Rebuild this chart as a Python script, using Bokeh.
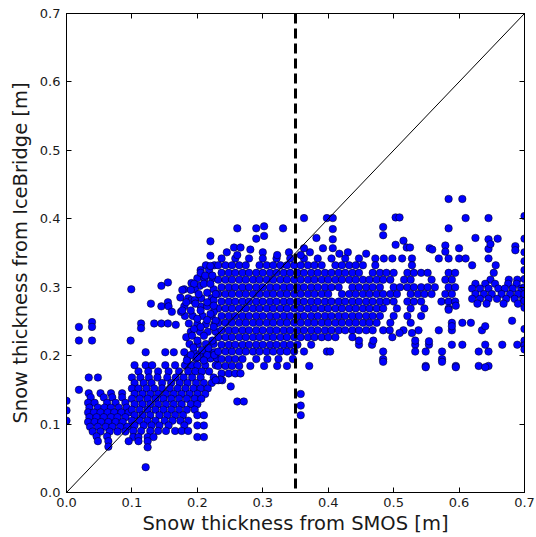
from bokeh.plotting import figure
from bokeh.models import LinearAxis, Span, Range1d, FixedTicker, NumeralTickFormatter, ColumnDataSource
from bokeh.embed import file_html
from bokeh.resources import INLINE

# ---------------- data ----------------
# rows: (snow thickness from IceBridge [m], [snow thickness from SMOS [m] of the points in that row])
left_cluster = [
    (0.145, [0.034, 0.052, 0.068, 0.085]),
    (0.139, [0.037, 0.057, 0.070, 0.085]),
    (0.131, [0.033, 0.043, 0.062, 0.075, 0.090]),
    (0.124, [0.035, 0.048, 0.058, 0.068, 0.080, 0.092]),
    (0.117, [0.033, 0.042, 0.052, 0.063, 0.073, 0.084, 0.095]),
    (0.110, [0.035, 0.046, 0.057, 0.068, 0.078, 0.090]),
    (0.103, [0.033, 0.043, 0.053, 0.064, 0.075, 0.086]),
    (0.096, [0.036, 0.048, 0.060, 0.070, 0.082, 0.093]),
    (0.089, [0.040, 0.052, 0.066, 0.078, 0.090]),
    (0.082, [0.046, 0.062]),
    (0.075, [0.048, 0.064]),
    (0.067, [0.064]),
]

lower_band = [
    (0.205, [0.121, 0.151, 0.164, 0.180, 0.195, 0.207, 0.217, 0.226]),
    (0.196, [0.185, 0.198, 0.208, 0.220, 0.230]),
    (0.186, [0.104, 0.121, 0.131, 0.151, 0.166, 0.181, 0.191, 0.200, 0.212, 0.228]),
    (0.177, [0.110, 0.125, 0.140, 0.156, 0.172, 0.186, 0.197, 0.207, 0.218]),
    (0.168, [0.100, 0.113, 0.126, 0.139, 0.154, 0.167, 0.179, 0.192, 0.205, 0.225]),
    (0.160, [0.104, 0.118, 0.130, 0.146, 0.160, 0.173, 0.185, 0.198, 0.210, 0.222]),
    (0.152, [0.100, 0.110, 0.122, 0.134, 0.146, 0.158, 0.170, 0.182, 0.194, 0.205, 0.216]),
    (0.144, [0.104, 0.116, 0.128, 0.140, 0.152, 0.164, 0.176, 0.188, 0.200, 0.212]),
    (0.137, [0.100, 0.112, 0.124, 0.136, 0.148, 0.160, 0.172, 0.184, 0.196, 0.206]),
    (0.129, [0.104, 0.116, 0.128, 0.140, 0.152, 0.164, 0.176, 0.190, 0.200]),
    (0.121, [0.100, 0.112, 0.124, 0.136, 0.148, 0.160, 0.172, 0.184, 0.196]),
    (0.113, [0.104, 0.116, 0.128, 0.142, 0.154, 0.166, 0.178, 0.200, 0.210]),
    (0.105, [0.100, 0.112, 0.124, 0.136, 0.150, 0.162, 0.174, 0.186]),
    (0.098, [0.104, 0.118, 0.130, 0.142, 0.156, 0.180, 0.200, 0.210]),
    (0.090, [0.102, 0.114, 0.128, 0.140, 0.152, 0.166, 0.176, 0.186]),
    (0.081, [0.102, 0.110, 0.124, 0.133, 0.200, 0.210]),
    (0.075, [0.095, 0.110, 0.124]),
    (0.066, [0.124]),
]

# transition between the lower band and the main band (SMOS 0.18 - 0.23)
band_edge = [
    (0.332, [0.213, 0.226]),
    (0.325, [0.205, 0.218]),
    (0.313, [0.200, 0.211, 0.223]),
    (0.284, [0.186, 0.206, 0.222]),
    (0.258, [0.181, 0.193, 0.208, 0.222]),
    (0.246, [0.200, 0.213, 0.226]),
    (0.235, [0.190, 0.204, 0.216, 0.228]),
    (0.217, [0.188, 0.201, 0.213, 0.225]),
    (0.201, [0.190, 0.203, 0.215, 0.226]),
]

main_band = [
    (0.351, [0.245, 0.300, 0.340, 0.372, 0.430]),
    (0.342, [0.237, 0.258, 0.279, 0.300, 0.321, 0.342, 0.363, 0.384, 0.405, 0.426, 0.447, 0.472, 0.485,
             0.498, 0.513, 0.528, 0.569, 0.584, 0.600, 0.610, 0.645]),
    (0.332, [0.232, 0.243, 0.253, 0.264, 0.274, 0.295, 0.306, 0.316, 0.327, 0.337, 0.348, 0.358,
             0.369, 0.379, 0.390, 0.411, 0.421, 0.432, 0.442, 0.453, 0.472, 0.528, 0.620, 0.656]),
    (0.321, [0.237, 0.248, 0.258, 0.269, 0.279, 0.290, 0.300, 0.311, 0.321, 0.332, 0.342, 0.353, 0.363,
             0.374, 0.384, 0.395, 0.405, 0.416, 0.426, 0.437, 0.447, 0.468, 0.479, 0.489, 0.500,
             0.521, 0.531, 0.542, 0.552, 0.584, 0.594, 0.653]),
    (0.311, [0.232, 0.243, 0.253, 0.264, 0.274, 0.285, 0.295, 0.306, 0.316, 0.327, 0.337, 0.348, 0.358,
             0.369, 0.379, 0.390, 0.400, 0.411, 0.421, 0.432, 0.442, 0.453, 0.463, 0.474, 0.484, 0.495,
             0.516, 0.526, 0.558, 0.579, 0.589, 0.648, 0.676, 0.689]),
    (0.300, [0.237, 0.248, 0.258, 0.269, 0.279, 0.290, 0.300, 0.311, 0.321, 0.332, 0.342, 0.353, 0.363,
             0.374, 0.384, 0.395, 0.405, 0.416, 0.437, 0.447, 0.458, 0.468, 0.479, 0.500, 0.510,
             0.521, 0.531, 0.542, 0.552, 0.563, 0.584, 0.594]),
    (0.290, [0.232, 0.243, 0.253, 0.264, 0.274, 0.285, 0.295, 0.306, 0.316, 0.327, 0.337, 0.348, 0.358,
             0.369, 0.379, 0.390, 0.400, 0.421, 0.432, 0.442, 0.453, 0.463, 0.474, 0.484, 0.495, 0.505,
             0.526, 0.537, 0.547, 0.558, 0.579, 0.589]),
    (0.279, [0.237, 0.248, 0.258, 0.269, 0.279, 0.290, 0.300, 0.311, 0.321, 0.332, 0.342, 0.353, 0.363,
             0.374, 0.384, 0.395, 0.405, 0.416, 0.426, 0.437, 0.447, 0.458, 0.468, 0.479, 0.489, 0.500,
             0.521, 0.531, 0.542, 0.573, 0.584, 0.594]),
    (0.269, [0.232, 0.243, 0.253, 0.264, 0.274, 0.285, 0.295, 0.306, 0.316, 0.327, 0.337, 0.348, 0.358,
             0.369, 0.379, 0.390, 0.400, 0.411, 0.421, 0.432, 0.442, 0.453, 0.463, 0.474, 0.484, 0.505,
             0.526, 0.547, 0.584]),
    (0.258, [0.237, 0.248, 0.258, 0.269, 0.279, 0.290, 0.300, 0.311, 0.321, 0.332, 0.342, 0.353, 0.363,
             0.374, 0.384, 0.395, 0.405, 0.416, 0.426, 0.437, 0.447, 0.458, 0.468, 0.479, 0.500, 0.521,
             0.542]),
    (0.248, [0.232, 0.243, 0.253, 0.264, 0.274, 0.285, 0.295, 0.306, 0.316, 0.327, 0.337, 0.348, 0.358,
             0.369, 0.379, 0.390, 0.400, 0.411, 0.421, 0.432, 0.442, 0.453, 0.463, 0.474, 0.495, 0.526,
             0.589, 0.605, 0.618]),
    (0.237, [0.237, 0.248, 0.258, 0.269, 0.279, 0.290, 0.300, 0.311, 0.321, 0.332, 0.342, 0.353, 0.363,
             0.374, 0.384, 0.395, 0.405, 0.416, 0.426, 0.437, 0.447, 0.458, 0.468, 0.484, 0.494, 0.515,
             0.538, 0.569, 0.589, 0.635]),
    (0.227, [0.232, 0.243, 0.253, 0.264, 0.274, 0.285, 0.295, 0.306, 0.316, 0.327, 0.337, 0.348, 0.358,
             0.369, 0.379, 0.390, 0.400, 0.411, 0.437, 0.498]),
    (0.216, [0.237, 0.248, 0.258, 0.269, 0.279, 0.290, 0.300, 0.311, 0.321, 0.332, 0.342, 0.353, 0.374,
             0.447, 0.467, 0.533, 0.554, 0.589, 0.605, 0.640, 0.666, 0.689]),
    (0.206, [0.232, 0.243, 0.253, 0.264, 0.274, 0.285, 0.295, 0.306, 0.316, 0.327, 0.337, 0.348, 0.363,
             0.398, 0.403, 0.484, 0.533, 0.549, 0.574, 0.630, 0.645]),
    (0.195, [0.237, 0.248, 0.258, 0.269, 0.290, 0.307, 0.324, 0.346, 0.484, 0.574]),
    (0.185, [0.232, 0.243, 0.253, 0.264, 0.281, 0.302, 0.322, 0.337, 0.371, 0.549, 0.595, 0.630, 0.645]),
    (0.174, [0.237, 0.248, 0.258, 0.266]),
    (0.164, [0.232, 0.238]),
]

right_cluster = [
    (0.305, [0.625, 0.640, 0.655, 0.675, 0.688]),
    (0.298, [0.620, 0.632, 0.645, 0.660, 0.670, 0.682, 0.695]),
    (0.290, [0.625, 0.638, 0.650, 0.665, 0.678, 0.690]),
    (0.283, [0.620, 0.632, 0.645, 0.658, 0.672, 0.685, 0.698]),
    (0.276, [0.628, 0.642, 0.668, 0.690]),
]

# isolated points: SMOS and IceBridge snow thickness [m]
scatter_smos = [
    0.000, 0.000, 0.000, 0.019, 0.034, 0.048, 0.019, 0.039, 0.039, 0.019, 0.039, 0.098, 0.099, 0.121,
    0.145, 0.155, 0.129, 0.145, 0.155, 0.156, 0.161, 0.114, 0.114, 0.134, 0.145, 0.155, 0.167, 0.187,
    0.195, 0.205, 0.175, 0.180, 0.191, 0.196, 0.191, 0.204, 0.180, 0.196, 0.215, 0.225, 0.225, 0.205,
    0.215, 0.225, 0.220, 0.220, 0.220, 0.205, 0.212, 0.223, 0.195, 0.210, 0.220, 0.177, 0.190, 0.202,
    0.228, 0.174, 0.183, 0.197, 0.215, 0.225, 0.177, 0.190, 0.205, 0.220, 0.200, 0.215, 0.228, 0.225,
    0.183, 0.192, 0.200, 0.210, 0.223, 0.194, 0.207, 0.217, 0.184, 0.200, 0.210,
    0.261, 0.290, 0.302, 0.331, 0.290, 0.302, 0.363, 0.398, 0.407, 0.407, 0.382, 0.407, 0.256, 0.266,
    0.281, 0.261, 0.322, 0.363, 0.392, 0.407, 0.417, 0.358, 0.458,
    0.584, 0.605, 0.503, 0.509, 0.610, 0.645, 0.700, 0.484, 0.484, 0.584, 0.625, 0.645, 0.659, 0.700,
    0.515, 0.503, 0.520, 0.525, 0.555, 0.559, 0.579, 0.579, 0.600, 0.645, 0.648, 0.686, 0.686,
    0.700, 0.700, 0.700, 0.700, 0.700, 0.700, 0.700, 0.700, 0.700, 0.700, 0.700, 0.700,
    0.469, 0.509, 0.528, 0.589, 0.484, 0.533, 0.554, 0.574, 0.549, 0.595, 0.640, 0.640, 0.681, 0.447,
    0.584, 0.595, 0.251, 0.261, 0.271, 0.358, 0.358, 0.358, 0.235, 0.228,
]
scatter_icebridge = [
    0.134, 0.120, 0.105, 0.150, 0.168, 0.168, 0.242, 0.249, 0.242, 0.222, 0.222, 0.222, 0.297, 0.037,
    0.302, 0.307, 0.276, 0.272, 0.278, 0.272, 0.264, 0.247, 0.240, 0.247, 0.247, 0.247, 0.245, 0.247,
    0.239, 0.242, 0.264, 0.272, 0.281, 0.281, 0.306, 0.302, 0.297, 0.297, 0.292, 0.297, 0.281, 0.272,
    0.272, 0.264, 0.367, 0.346, 0.331, 0.321, 0.317, 0.317, 0.305, 0.305, 0.305, 0.296, 0.296, 0.290,
    0.290, 0.285, 0.278, 0.276, 0.278, 0.273, 0.266, 0.266, 0.266, 0.261, 0.254, 0.252, 0.251, 0.242,
    0.227, 0.229, 0.222, 0.229, 0.222, 0.212, 0.208, 0.211, 0.193, 0.198, 0.193,
    0.386, 0.386, 0.389, 0.386, 0.371, 0.375, 0.401, 0.401, 0.401, 0.385, 0.372, 0.370, 0.358, 0.358,
    0.355, 0.347, 0.347, 0.357, 0.357, 0.357, 0.349, 0.347, 0.349,
    0.429, 0.429, 0.402, 0.402, 0.401, 0.401, 0.404, 0.388, 0.376, 0.386, 0.372, 0.370, 0.371, 0.371,
    0.368, 0.362, 0.358, 0.358, 0.357, 0.355, 0.361, 0.352, 0.357, 0.356, 0.363, 0.360, 0.354,
    0.351, 0.338, 0.325, 0.312, 0.300, 0.290, 0.280, 0.270, 0.239, 0.222, 0.215, 0.209,
    0.222, 0.233, 0.233, 0.243, 0.191, 0.222, 0.221, 0.191, 0.183, 0.273, 0.243, 0.183, 0.251, 0.222,
    0.267, 0.183, 0.155, 0.133, 0.133, 0.144, 0.127, 0.113, 0.165, 0.164,
]

one_to_one = [0.0, 0.7]
smos_threshold = 0.35
tick_values = [0.0, 0.1, 0.2, 0.3, 0.4, 0.5, 0.6, 0.7]


def flatten(rows):
    xs, ys = [], []
    for level, row in rows:
        xs.extend(row)
        ys.extend([level] * len(row))
    return xs, ys


smos, icebridge = [], []
for group in (left_cluster, lower_band, band_edge, main_band, right_cluster):
    gx, gy = flatten(group)
    smos.extend(gx)
    icebridge.extend(gy)
smos.extend(scatter_smos)
icebridge.extend(scatter_icebridge)

source = ColumnDataSource(data=dict(smos=smos, icebridge=icebridge))

# ---------------- figure ----------------
p = figure(width=536, height=537, output_backend="svg", toolbar_location=None,
           x_range=Range1d(0, 0.7), y_range=Range1d(0, 0.7),
           min_border_left=66, min_border_right=12, min_border_top=13, min_border_bottom=45,
           background_fill_color="white", border_fill_color="white")
p.grid.visible = False
p.outline_line_color = "black"
p.outline_line_width = 1

FONT = "DejaVu Sans"
for ax in (p.xaxis[0], p.yaxis[0]):
    ax.ticker = FixedTicker(ticks=tick_values)
    ax.formatter = NumeralTickFormatter(format="0.0")
    ax.major_tick_in = 5
    ax.major_tick_out = 0
    ax.minor_tick_line_color = None
    ax.axis_line_color = "black"
    ax.major_tick_line_color = "black"
    ax.major_label_text_font = FONT
    ax.major_label_text_font_size = "13px"
    ax.major_label_text_color = "#1a1a1a"
    ax.axis_label_text_font = FONT
    ax.axis_label_text_font_size = "19.5px"
    ax.axis_label_text_font_style = "normal"
    ax.axis_label_text_color = "#1a1a1a"

p.xaxis.axis_label = "Snow thickness from SMOS [m]"
p.yaxis.axis_label = "Snow thickness from IceBridge [m]"
p.xaxis.major_label_standoff = 5
p.yaxis.major_label_standoff = 6
p.xaxis.axis_label_standoff = 2
p.yaxis.axis_label_standoff = 5

# tick marks on the top and right sides, without labels
for loc in ("above", "right"):
    ax = LinearAxis(ticker=FixedTicker(ticks=tick_values), major_tick_in=5, major_tick_out=0,
                    minor_tick_line_color=None, major_label_text_font_size="1px",
                    major_label_text_color=None, major_label_standoff=0, axis_line_color="black")
    p.add_layout(ax, loc)

p.scatter("smos", "icebridge", source=source, size=7.5, marker="circle",
          fill_color="#0000ff", line_color="black", line_width=0.5)
p.line(one_to_one, one_to_one, line_color="black", line_width=1)
p.add_layout(Span(location=smos_threshold, dimension="height", line_color="black",
                  line_width=3, line_dash="10 5"))

open("out.html", "w").write(file_html(p, INLINE))
